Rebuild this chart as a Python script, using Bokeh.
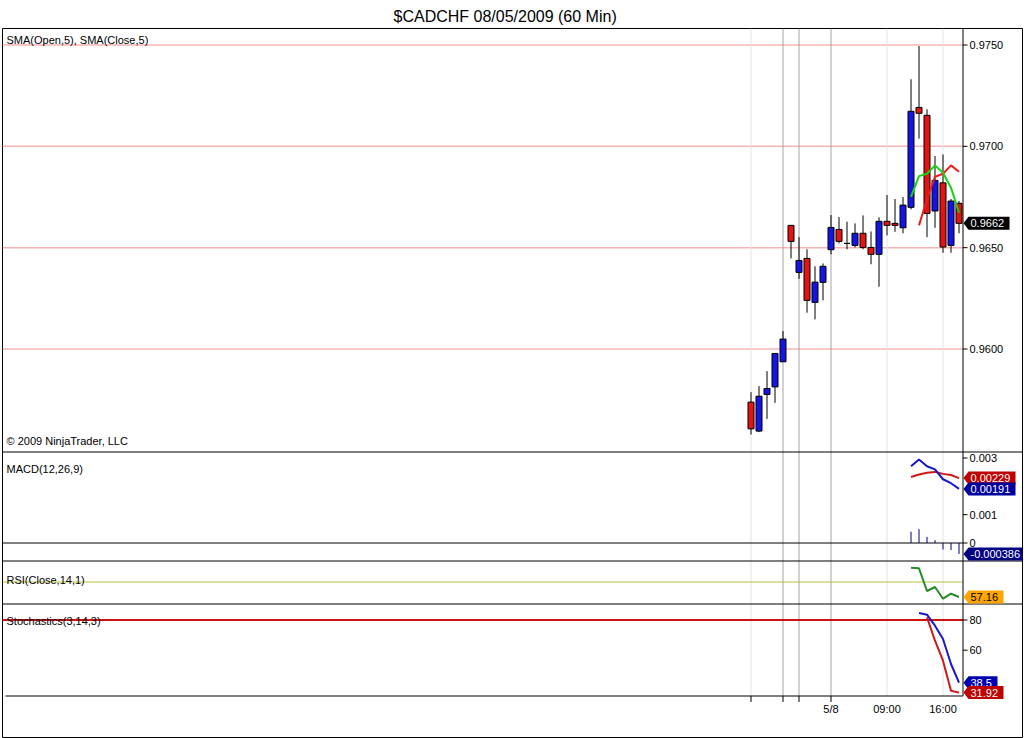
import numpy as np
from bokeh.plotting import figure
from bokeh.models import Range1d, ColumnDataSource
from bokeh.core.properties import value
from bokeh.embed import file_html
from bokeh.resources import INLINE

# ---------------- data ----------------
title_text = "$CADCHF  08/05/2009 (60 Min)"
bars = list(range(27))
opens = [0.95738, 0.95595, 0.95776, 0.95813, 0.95937, 0.96610, 0.96378, 0.96447, 0.96230,
         0.96329, 0.96490, 0.96590, 0.96521, 0.96511, 0.96571, 0.96501, 0.96467, 0.96630,
         0.96620, 0.96598, 0.96699, 0.97192, 0.97153, 0.96681, 0.96820, 0.96511, 0.96719]
highs = [0.95787, 0.95817, 0.95891, 0.95978, 0.96088, 0.96610, 0.96552, 0.96492, 0.96408,
         0.96422, 0.96661, 0.96651, 0.96628, 0.96620, 0.96659, 0.96580, 0.96650, 0.96760,
         0.96740, 0.96750, 0.97331, 0.97495, 0.97183, 0.96952, 0.96960, 0.96740, 0.96730]
lows = [0.95578, 0.95590, 0.95655, 0.95734, 0.95937, 0.96447, 0.96346, 0.96179, 0.96146,
        0.96240, 0.96467, 0.96521, 0.96492, 0.96501, 0.96492, 0.96418, 0.96307, 0.96561,
        0.96578, 0.96571, 0.96689, 0.97038, 0.96552, 0.96598, 0.96475, 0.96475, 0.96571]
closes = [0.95606, 0.95767, 0.95805, 0.95978, 0.96049, 0.96531, 0.96437, 0.96240, 0.96330,
          0.96408, 0.96600, 0.96531, 0.96521, 0.96571, 0.96501, 0.96467, 0.96630, 0.96610,
          0.96610, 0.96710, 0.97173, 0.97163, 0.96669, 0.96832, 0.96503, 0.96730, 0.96620]

sma_close_bars = [20, 21, 22, 23, 24, 25, 26]
sma_close = [0.96751, 0.96853, 0.96865, 0.96906, 0.96870, 0.96796, 0.96672]
sma_open_bars = [21, 22, 23, 24, 25, 26]
sma_open = [0.96610, 0.96740, 0.96850, 0.96865, 0.96906, 0.96875]

macd_bars = [20, 21, 22, 23, 24, 25, 26]
macd_line = [0.00271, 0.00295, 0.00271, 0.00260, 0.00225, 0.00211, 0.00191]
macd_avg = [0.00233, 0.00242, 0.00248, 0.00251, 0.00244, 0.00240, 0.00229]
macd_diff = [0.00040, 0.00049, 0.00022, 0.00010, -0.00023, -0.00025, -0.000386]

rsi_bars = [20, 21, 22, 23, 24, 25, 26]
rsi_vals = [82.24, 81.73, 62.29, 65.72, 55.70, 59.98, 57.16]

stoch_d_bars = [21, 22, 23, 24, 25, 26]
stoch_d = [84.64, 83.51, 76.23, 67.42, 50.86, 38.5]
stoch_k_bars = [22, 23, 24, 25, 26]
stoch_k = [81.72, 66.29, 53.05, 33.18, 31.92]

time_tick_bars = [10, 17, 24]
time_tick_labels = ["5/8", "09:00", "16:00"]
minor_tick_bars = [0, 4, 6, 10]
dark_vlines = [4, 6, 10]
light_vlines = [0, 17, 24]

price_ticks = [0.9750, 0.9700, 0.9650, 0.9600]
price_tick_labels = ["0.9750", "0.9700", "0.9650", "0.9600"]
macd_ticks = [0.003, 0.001, 0.0]
macd_tick_labels = ["0.003", "0.001", "0"]
stoch_ticks = [80, 60]
stoch_tick_labels = ["80", "60"]
rsi_level = 70
stoch_level = 80

captions = ["SMA(Open,5), SMA(Close,5)", "\u00a9 2009 NinjaTrader, LLC", "MACD(12,26,9)",
            "RSI(Close,14,1)", "Stochastics(3,14,3)"]

# ---------------- layout geometry (page pixels) ----------------
FIG_W, FIG_H = 1024, 738
TOP_PX, BOT_PX = 28, 737          # outer frame
PLOT_BOT_PX = 695.5               # bottom of the indicator area
LEFT_PX, RIGHT_PX = 2, 1022
AXIS_PX = 962.5                   # right value-axis line
BAR0_PX, BAR_PX = 750.5, 8
FONT = "Liberation Sans"

ANCHORS = {
    "default": (0.9750, 44.5, 0.9600, 348.5),
    "macd": (0.003, 457.5, 0.0, 542.5),
    "rsi": (70.0, 581.5, 57.16, 596.5),
    "stoch": (80.0, 619.5, 60.0, 649.7),
}


def xd(px):
    return (px - BAR0_PX) / BAR_PX


def val_at(panel, py):
    v1, p1, v2, p2 = ANCHORS[panel]
    return v1 + (py - p1) * (v2 - v1) / (p2 - p1)


def py_of(panel, v):
    v1, p1, v2, p2 = ANCHORS[panel]
    return p1 + (v - v1) * (p2 - p1) / (v2 - v1)


def rng(panel):
    return Range1d(val_at(panel, BOT_PX), val_at(panel, TOP_PX))


def P(py):
    return val_at("default", py)


p = figure(width=FIG_W, height=FIG_H, x_range=Range1d(xd(LEFT_PX), xd(RIGHT_PX)),
           y_range=rng("default"), x_axis_location=None, y_axis_location=None,
           output_backend="svg", toolbar_location=None, title=title_text,
           min_border_left=LEFT_PX, min_border_right=FIG_W - RIGHT_PX,
           min_border_top=TOP_PX, min_border_bottom=FIG_H - BOT_PX,
           background_fill_color="white", border_fill_color="white",
           outline_line_color="black", outline_line_width=1)
p.extra_y_ranges = {"macd": rng("macd"), "rsi": rng("rsi"), "stoch": rng("stoch")}
p.grid.visible = False

p.title.align = "left"
p.title.offset = 391
p.title.standoff = 3
p.title.vertical_align = "top"
p.title.text_font = FONT
p.title.text_font_size = "16px"
p.title.text_font_style = "normal"
p.title.text_color = "black"

XL, XA = xd(LEFT_PX), xd(AXIS_PX)

# ---------- grid / reference lines ----------
n = len(price_ticks)
p.segment(x0=[XL] * n, y0=price_ticks, x1=[XA] * n, y1=price_ticks,
          line_color="#f7b4b4", line_width=1.5)

p.segment(x0=light_vlines, y0=[P(PLOT_BOT_PX)] * 3, x1=light_vlines, y1=[P(TOP_PX)] * 3,
          line_color="#e4e4e4", line_width=1)
p.segment(x0=dark_vlines, y0=[P(PLOT_BOT_PX)] * 3, x1=dark_vlines, y1=[P(TOP_PX)] * 3,
          line_color="#a4a4a4", line_width=1)

p.segment(x0=[XL], y0=[0.0], x1=[XA], y1=[0.0], y_range_name="macd", line_color="black", line_width=1)
p.segment(x0=[XL], y0=[rsi_level], x1=[XA], y1=[rsi_level], y_range_name="rsi",
          line_color="#bcc040", line_width=1)
p.segment(x0=[XL], y0=[stoch_level], x1=[XA], y1=[stoch_level], y_range_name="stoch",
          line_color="#cc1111", line_width=2)

# panel separators across full width, axis line and bottom of the indicator area
seps = [451.5, 560.5, 603.5]
p.segment(x0=[XL] * 3, y0=[P(s) for s in seps], x1=[xd(RIGHT_PX)] * 3, y1=[P(s) for s in seps],
          line_color="black", line_width=1)
p.segment(x0=[XA], y0=[P(PLOT_BOT_PX)], x1=[XA], y1=[P(TOP_PX)], line_color="black", line_width=1)
p.segment(x0=[xd(5)], y0=[P(PLOT_BOT_PX)], x1=[XA], y1=[P(PLOT_BOT_PX)], line_color="black", line_width=1)

# ---------- candles ----------
o = np.array(opens); c = np.array(closes)
src = ColumnDataSource(dict(x=bars, o=opens, h=highs, l=lows, c=closes,
                            top=np.maximum(o, c), bot=np.minimum(o, c),
                            col=["#1414e6" if cc > oo else "#e41414" for oo, cc in zip(opens, closes)]))
p.segment(x0="x", y0="l", x1="x", y1="h", source=src, line_color="black", line_width=1)
p.vbar(x="x", width=0.75, top="top", bottom="bot", source=src, fill_color="col",
       line_color="black", line_width=1)

p.line(sma_open_bars, sma_open, line_color="#ee1c1c", line_width=2)
p.line(sma_close_bars, sma_close, line_color="#14d414", line_width=2)

# ---------- MACD ----------
p.segment(x0=macd_bars, y0=[0] * len(macd_bars), x1=macd_bars, y1=macd_diff,
          y_range_name="macd", line_color="#000080", line_width=1)
p.line(macd_bars, macd_avg, y_range_name="macd", line_color="#d01818", line_width=2)
p.line(macd_bars, macd_line, y_range_name="macd", line_color="#1818c8", line_width=2)

# ---------- RSI ----------
p.line(rsi_bars, rsi_vals, y_range_name="rsi", line_color="#2a8a2a", line_width=2)

# ---------- Stochastics ----------
p.line(stoch_d_bars, stoch_d, y_range_name="stoch", line_color="#1818c8", line_width=2)
p.line(stoch_k_bars, stoch_k, y_range_name="stoch", line_color="#d01818", line_width=2)

# ---------- panel captions ----------
cap_py = [39, 440, 468, 579, 620]
p.text(x=[xd(6)] * len(captions), y=[P(y) for y in cap_py], text=captions,
       text_font=value(FONT), text_font_size="11px", text_color="black",
       text_baseline="middle", text_align="left")

# ---------- right value axis ----------
for name, ticks, labels in (("default", price_ticks, price_tick_labels),
                            ("macd", macd_ticks, macd_tick_labels),
                            ("stoch", stoch_ticks, stoch_tick_labels)):
    k = len(ticks)
    p.segment(x0=[XA] * k, y0=ticks, x1=[xd(967)] * k, y1=ticks, y_range_name=name,
              line_color="black", line_width=1)
    p.text(x=[xd(969)] * k, y=ticks, text=labels, y_range_name=name,
           text_font=value(FONT), text_font_size="11px", text_color="black",
           text_baseline="middle", text_align="left")

# ---------- time axis ----------
m = len(minor_tick_bars)
p.segment(x0=minor_tick_bars, y0=[P(PLOT_BOT_PX)] * m, x1=minor_tick_bars, y1=[P(PLOT_BOT_PX + 6)] * m,
          line_color="black", line_width=1)
p.text(x=time_tick_bars, y=[P(708)] * len(time_tick_bars), text=time_tick_labels,
       text_font=value(FONT), text_font_size="11px", text_color="black",
       text_baseline="middle", text_align="center")

# ---------- value tags on the right ----------
tags = [
    ("default", closes[-1], "%.4f" % closes[-1], "black", "white"),
    ("macd", macd_avg[-1], "%.5f" % macd_avg[-1], "#c00000", "white"),
    ("macd", macd_line[-1], "%.5f" % macd_line[-1], "#0000a0", "white"),
    ("macd", macd_diff[-1], "%.6f" % macd_diff[-1], "#000080", "white"),
    ("rsi", rsi_vals[-1], "%.2f" % rsi_vals[-1], "#ffa500", "black"),
    ("stoch", stoch_d[-1], "%g" % stoch_d[-1], "#0000b0", "white"),
    ("stoch", stoch_k[-1], "%.2f" % stoch_k[-1], "#c00000", "white"),
]
for panel, v, txt, bg, fg in tags:
    cy = py_of(panel, v)
    w = 6.0 * len(txt) + 5
    vt = val_at(panel, cy - 6.5)
    vb = val_at(panel, cy + 6.5)
    p.patch(x=[xd(963), xd(968), xd(968 + w), xd(968 + w), xd(968)],
            y=[v, vt, vt, vb, vb], y_range_name=panel,
            fill_color=bg, line_color=None)
    p.text(x=[xd(970)], y=[v], text=[txt], y_range_name=panel, text_color=fg,
           text_baseline="middle", text_align="left", text_font=value(FONT),
           text_font_size="11px")

open("out.html", "w").write(file_html(p, INLINE))
